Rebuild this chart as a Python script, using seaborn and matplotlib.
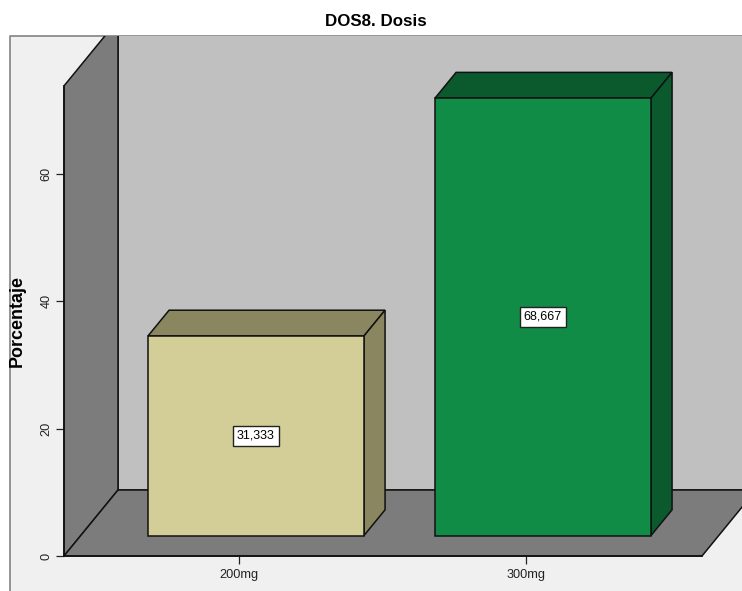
import matplotlib
matplotlib.use("Agg")
import matplotlib.pyplot as plt
from matplotlib.patches import Polygon, Rectangle
import pandas as pd
import seaborn as sns

title = "DOS8. Dosis"
y_label = "Porcentaje"
categories = ["200mg", "300mg"]
percentages = [31.333, 68.667]
y_ticks = [0, 20, 40, 60]
y_axis_top = 73.8

face_colors = ["#d3ce97", "#108c47"]
shade_colors = ["#8a8660", "#0a5a2e"]
panel_color = "#f0f0f0"
wall_color = "#c0c0c0"
side_color = "#7c7c7c"
line_color = "#111111"

W, H = 742, 591
PX_PER_CAT = 287.0
PX_PER_VAL = 6.37
DEPTH_X = 54 / PX_PER_CAT
DEPTH_Y = 66 / PX_PER_VAL
BAR_WIDTH = 216 / PX_PER_CAT
Z_FRONT, Z_BACK = 0.31, 0.70
TICK_SHIFT = 17 / PX_PER_CAT
AXIS_LEFT = (64 - 256) / PX_PER_CAT
AXIS_RIGHT = (702 - 256) / PX_PER_CAT


def project(x, v, z):
    """Oblique projection of (category position, value, depth) to data space."""
    return (x + z * DEPTH_X, v + z * DEPTH_Y)


sns.set_style("white")
plt.rcParams["font.family"] = ["Liberation Sans", "DejaVu Sans"]

fig = plt.figure(figsize=(W / 100, H / 100), dpi=100, facecolor="white")
ax = fig.add_axes([0, 0, 1, 1], facecolor="none")

xlim = (-256 / PX_PER_CAT, (W - 256) / PX_PER_CAT)
ylim = ((556 - H) / PX_PER_VAL, 556 / PX_PER_VAL)

# Chart panel behind everything, also used as the clip region for the walls
panel = Rectangle((10 / W, 0), 1 - 10 / W, 1 - 36 / H, transform=fig.transFigure,
                  facecolor=panel_color, edgecolor="none", zorder=0)
ax.add_patch(panel)
panel.set_clip_on(False)

# Panel border is only visible along the left and top edges
ax.plot([10 / W, 10 / W, 1], [0, 1 - 36 / H, 1 - 36 / H], transform=fig.transFigure,
        color="#8c8c8c", linewidth=1.3, zorder=0.5, clip_on=False)

# Back wall, side wall and floor of the 3D box
x_l, x_r = AXIS_LEFT, AXIS_RIGHT
wall_pts = [
    ([project(x_l, 0, 1), project(x_r + 1, 0, 1), project(x_r + 1, 99, 1), project(x_l, 99, 1)], wall_color),
    ([project(x_l, 0, 0), project(x_l, 0, 1), project(x_l, y_axis_top, 1), project(x_l, y_axis_top, 0)], side_color),
    ([project(x_l, 0, 0), project(x_r, 0, 0), project(x_r, 0, 1), project(x_l, 0, 1)], side_color),
]
for pts, col in wall_pts:
    poly = Polygon(pts, closed=True, facecolor=col, edgecolor=line_color, linewidth=1.1, zorder=1)
    ax.add_patch(poly)
    poly.set_clip_path(panel)

# Front faces of the bars
df = pd.DataFrame({"dosis": categories, "porcentaje": percentages})
base = Z_FRONT * DEPTH_Y
sns.barplot(data=df, x="dosis", y="porcentaje", hue="dosis", palette=face_colors,
            order=categories, hue_order=categories, legend=False, errorbar=None,
            width=BAR_WIDTH, dodge=False, saturation=1, bottom=base, edgecolor=line_color,
            linewidth=1.1, zorder=3, ax=ax)

# Top and side faces of the bars, with value labels
dz = Z_BACK - Z_FRONT
for i, (val, shade) in enumerate(zip(percentages, shade_colors)):
    left = i - BAR_WIDTH / 2
    right = i + BAR_WIDTH / 2
    top = [(left, val + base), (right, val + base),
           (right + dz * DEPTH_X, val + base + dz * DEPTH_Y),
           (left + dz * DEPTH_X, val + base + dz * DEPTH_Y)]
    side = [(right, base), (right + dz * DEPTH_X, base + dz * DEPTH_Y),
            (right + dz * DEPTH_X, val + base + dz * DEPTH_Y), (right, val + base)]
    for pts in (top, side):
        ax.add_patch(Polygon(pts, closed=True, facecolor=shade, edgecolor=line_color,
                             linewidth=1.1, zorder=2.5))
    ax.text(i, base + val / 2, f"{val:.3f}".replace(".", ","), ha="center", va="center",
            fontsize=9, color="black", zorder=5,
            bbox=dict(boxstyle="square,pad=0.32", facecolor="white", edgecolor="#222222", linewidth=1.0))

ax.set_xlim(*xlim)
ax.set_ylim(*ylim)

# Axes run along the front edges of the floor and side wall
for s in ("top", "right"):
    ax.spines[s].set_visible(False)
ax.spines["left"].set_position(("data", AXIS_LEFT))
ax.spines["bottom"].set_position(("data", 0))
ax.spines["left"].set_bounds(0, y_axis_top)
ax.spines["bottom"].set_bounds(AXIS_LEFT, AXIS_RIGHT)
for s in ("left", "bottom"):
    ax.spines[s].set_color(line_color)
    ax.spines[s].set_linewidth(1.2)
    ax.spines[s].set_zorder(2)

ax.set_xticks([i - TICK_SHIFT for i in range(len(categories))], categories)
ax.set_yticks(y_ticks, [str(t) for t in y_ticks])
ax.tick_params(axis="both", direction="out", length=5.8, width=0.9, color="#222222",
               labelsize=9.2, labelcolor="#222222", left=True, bottom=True)
ax.tick_params(axis="x", pad=3.5)
ax.tick_params(axis="y", pad=2.5, labelrotation=90)
for lab in ax.get_yticklabels():
    lab.set_va("center")
ax.set_xlabel("")
ax.set_ylabel("")

fig.text(17 / W, 1 - 321 / H, y_label, rotation=90, ha="center", va="center",
         fontsize=12.9, fontweight="bold", color="black")
fig.text(376 / W, 1 - 21 / H, title, ha="center", va="center",
         fontsize=12.2, fontweight="bold", color="black")

fig.savefig("out.png", dpi=100)
